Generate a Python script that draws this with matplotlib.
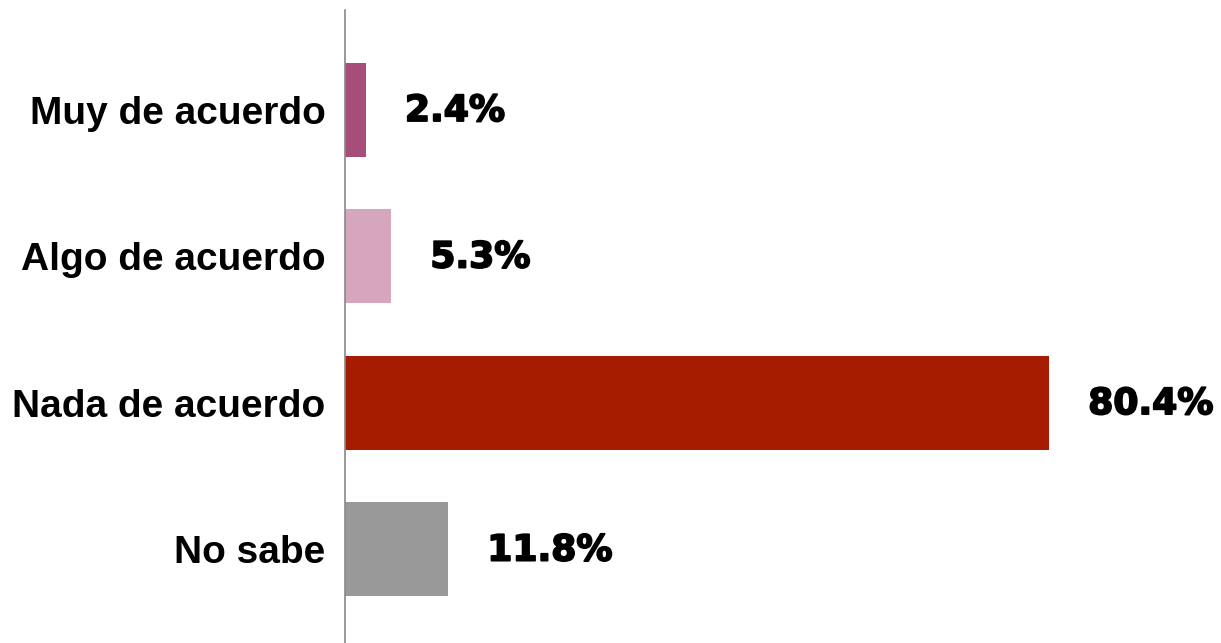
import numpy as np
import matplotlib.pyplot as plt
import matplotlib.patheffects as pe

categorias = ['Muy de acuerdo', 'Algo de acuerdo', 'Nada de acuerdo', 'No sabe']
valores = [2.4, 5.3, 80.4, 11.8]
colores = ['#a64d79', '#d5a6bd', '#a61c00', '#999999']

fig = plt.figure(figsize=(12.21, 6.43), dpi=100)
ax = fig.add_axes([345/1221, 0.0, 876/1221, 633/643])

y = np.arange(len(categorias))
ax.barh(y, valores, height=0.64, color=colores)

# etiquetas de valor (un poco mas gruesas, como en el original)
for yi, v in zip(y, valores):
    ax.annotate('%.1f%%' % v, (v, yi), xytext=(28, -1), textcoords='offset points',
                ha='left', va='center', fontsize=26, fontweight='bold',
                family='DejaVu Sans', color='black',
                path_effects=[pe.Stroke(linewidth=1.3, foreground='black'), pe.Normal()])

ax.set_xlim(0, 100)
ax.set_ylim(3.64, -0.68)
ax.set_yticks(y)
ax.set_yticklabels(categorias, fontsize=28, fontweight='bold', family='Liberation Sans')
ax.tick_params(axis='y', length=0, pad=14)
ax.set_xticks([])
for s in ['top', 'right', 'bottom']:
    ax.spines[s].set_visible(False)
ax.spines['left'].set_color('#888888')
ax.spines['left'].set_linewidth(1.2)

fig.savefig('out.png', dpi=100)
